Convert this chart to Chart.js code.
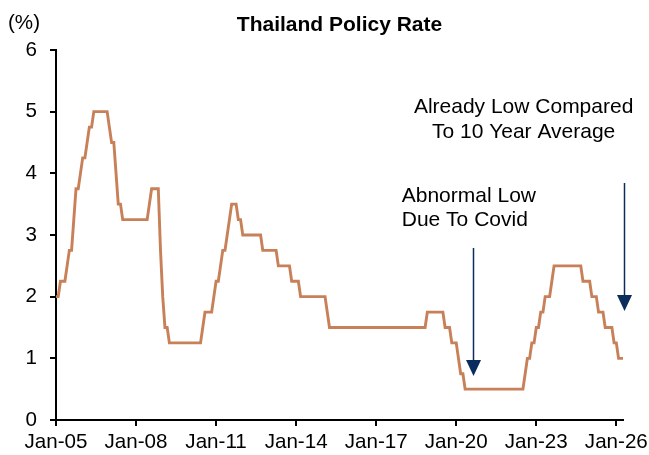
<!DOCTYPE html>
<html>
<head>
<meta charset="utf-8">
<script src="https://cdn.jsdelivr.net/npm/chart.js@4.4.1/dist/chart.umd.min.js"></script>
<style>
  html, body { margin: 0; padding: 0; background: #fff; }
  canvas { display: block; }
</style>
</head>
<body>
<canvas id="rateChart" width="649" height="455"></canvas>
<script>
// Monthly policy rate, Jan-05 .. Apr-26 (one row per year)
const rates = [
  2.00, 2.00, 2.25, 2.25, 2.25, 2.50, 2.75, 2.75, 3.25, 3.75, 3.75, 4.00, // 2005
  4.25, 4.25, 4.50, 4.75, 4.75, 5.00, 5.00, 5.00, 5.00, 5.00, 5.00, 5.00, // 2006
  4.75, 4.50, 4.50, 4.00, 3.50, 3.50, 3.25, 3.25, 3.25, 3.25, 3.25, 3.25, // 2007
  3.25, 3.25, 3.25, 3.25, 3.25, 3.25, 3.50, 3.75, 3.75, 3.75, 3.75, 2.75, // 2008
  2.00, 1.50, 1.50, 1.25, 1.25, 1.25, 1.25, 1.25, 1.25, 1.25, 1.25, 1.25, // 2009
  1.25, 1.25, 1.25, 1.25, 1.25, 1.25, 1.50, 1.75, 1.75, 1.75, 1.75, 2.00, // 2010
  2.25, 2.25, 2.50, 2.75, 2.75, 3.00, 3.25, 3.50, 3.50, 3.50, 3.25, 3.25, // 2011
  3.00, 3.00, 3.00, 3.00, 3.00, 3.00, 3.00, 3.00, 3.00, 2.75, 2.75, 2.75, // 2012
  2.75, 2.75, 2.75, 2.75, 2.50, 2.50, 2.50, 2.50, 2.50, 2.50, 2.25, 2.25, // 2013
  2.25, 2.25, 2.00, 2.00, 2.00, 2.00, 2.00, 2.00, 2.00, 2.00, 2.00, 2.00, // 2014
  2.00, 2.00, 1.75, 1.50, 1.50, 1.50, 1.50, 1.50, 1.50, 1.50, 1.50, 1.50, // 2015
  1.50, 1.50, 1.50, 1.50, 1.50, 1.50, 1.50, 1.50, 1.50, 1.50, 1.50, 1.50, // 2016
  1.50, 1.50, 1.50, 1.50, 1.50, 1.50, 1.50, 1.50, 1.50, 1.50, 1.50, 1.50, // 2017
  1.50, 1.50, 1.50, 1.50, 1.50, 1.50, 1.50, 1.50, 1.50, 1.50, 1.50, 1.75, // 2018
  1.75, 1.75, 1.75, 1.75, 1.75, 1.75, 1.75, 1.50, 1.50, 1.50, 1.25, 1.25, // 2019
  1.25, 1.00, 0.75, 0.75, 0.50, 0.50, 0.50, 0.50, 0.50, 0.50, 0.50, 0.50, // 2020
  0.50, 0.50, 0.50, 0.50, 0.50, 0.50, 0.50, 0.50, 0.50, 0.50, 0.50, 0.50, // 2021
  0.50, 0.50, 0.50, 0.50, 0.50, 0.50, 0.50, 0.75, 1.00, 1.00, 1.25, 1.25, // 2022
  1.50, 1.50, 1.75, 1.75, 2.00, 2.00, 2.00, 2.25, 2.50, 2.50, 2.50, 2.50, // 2023
  2.50, 2.50, 2.50, 2.50, 2.50, 2.50, 2.50, 2.50, 2.50, 2.25, 2.25, 2.25, // 2024
  2.25, 2.00, 2.00, 2.00, 1.75, 1.75, 1.75, 1.50, 1.50, 1.50, 1.50, 1.25, // 2025
  1.25, 1.00, 1.00, 1.00                                                  // 2026
];

// x axis: months since Jan-05
const xTickMonths = [0, 36, 72, 108, 144, 180, 216, 252];
const xTickLabels = ['Jan-05', 'Jan-08', 'Jan-11', 'Jan-14', 'Jan-17', 'Jan-20', 'Jan-23', 'Jan-26'];
const xMax = 255;
const yTicks = [0, 1, 2, 3, 4, 5, 6];

const chartTitle = 'Thailand Policy Rate';
const unitLabel = '(%)';

// annotations, anchored in data units (month, rate)
const noteLines = [['Abnormal Low', 'Due To Covid'], ['Already Low Compared', 'To 10 Year Average']];
const noteX = [155.5, 210.3];
const noteAlign = ['left', 'center'];
const noteBaselines = [[3.54, 3.154], [4.978, 4.573]];
const arrowX = [187.7, 255.3];
const arrowFrom = [2.79, 3.843];
const arrowTo = [0.713, 1.768];

const lineColor = '#C78058';
const arrowColor = '#0B2D5B';
const fontFamily = '"Liberation Sans", Arial, Helvetica, sans-serif';

const notesPlugin = {
    id: 'notes',
    afterDraw(chart) {
        const { ctx, chartArea } = chart;
        const x = chart.scales.x;
        const y = chart.scales.y;
        ctx.save();
        ctx.fillStyle = '#000';

        ctx.font = 'bold 21px ' + fontFamily;
        ctx.textAlign = 'center';
        ctx.textBaseline = 'alphabetic';
        ctx.fillText(chartTitle, (chartArea.left + chartArea.right) / 2, 31);

        ctx.font = '20.6px ' + fontFamily;
        ctx.textAlign = 'left';
        ctx.fillText(unitLabel, 8, 29);

        ctx.font = '21px ' + fontFamily;
        noteLines.forEach((lines, i) => {
            ctx.textAlign = noteAlign[i];
            lines.forEach((txt, j) => {
                ctx.fillText(txt, x.getPixelForValue(noteX[i]), y.getPixelForValue(noteBaselines[i][j]));
            });
        });

        // arrows
        ctx.strokeStyle = arrowColor;
        ctx.fillStyle = arrowColor;
        ctx.lineWidth = 1.5;
        arrowX.forEach((mx, i) => {
            const px = Math.round(x.getPixelForValue(mx)) + 0.5;
            const top = y.getPixelForValue(arrowFrom[i]);
            const tip = y.getPixelForValue(arrowTo[i]);
            const headLen = 16;
            const headHalf = 7.5;
            ctx.beginPath();
            ctx.moveTo(px, top);
            ctx.lineTo(px, tip - headLen + 1);
            ctx.stroke();
            ctx.beginPath();
            ctx.moveTo(px - headHalf, tip - headLen);
            ctx.lineTo(px + headHalf, tip - headLen);
            ctx.lineTo(px, tip);
            ctx.closePath();
            ctx.fill();
        });
        ctx.restore();
    }
};

const points = rates.map((v, i) => ({ x: i, y: v }));

const ctx = document.getElementById('rateChart').getContext('2d');
new Chart(ctx, {
    type: 'line',
    data: {
        datasets: [{
            data: points,
            borderColor: lineColor,
            borderWidth: 2.9,
            pointRadius: 0,
            tension: 0,
            fill: false
        }]
    },
    options: {
        responsive: false,
        animation: false,
        events: [],
        layout: { padding: { top: 50, right: 26, left: 0, bottom: 0 } },
        plugins: {
            legend: { display: false },
            tooltip: { enabled: false },
            title: { display: false }
        },
        scales: {
            x: {
                type: 'linear',
                min: 0,
                max: xMax,
                afterBuildTicks: (scale) => {
                    scale.ticks = xTickMonths.map(v => ({ value: v }));
                },
                afterFit: (scale) => {
                    // keep the plot area fixed; the end labels fit in the margins
                    scale.height = 35;
                    scale.paddingLeft = 0;
                    scale.paddingRight = 0;
                },
                border: { display: true, color: '#000', width: 2 },
                grid: { drawOnChartArea: false, drawTicks: true, tickLength: 6, color: '#000', lineWidth: 2 },
                ticks: {
                    color: '#000',
                    font: { family: fontFamily, size: 20.6 },
                    padding: 4,
                    maxRotation: 0,
                    autoSkip: false,
                    callback: (value) => xTickLabels[xTickMonths.indexOf(value)]
                }
            },
            y: {
                min: 0,
                max: 6,
                afterBuildTicks: (scale) => {
                    scale.ticks = yTicks.map(v => ({ value: v }));
                },
                afterFit: (scale) => {
                    scale.width = 56;
                    scale.paddingTop = 0;
                    scale.paddingBottom = 0;
                },
                border: { display: true, color: '#000', width: 2 },
                grid: { drawOnChartArea: false, drawTicks: true, tickLength: 6, color: '#000', lineWidth: 2 },
                ticks: {
                    color: '#000',
                    font: { family: fontFamily, size: 20.6 },
                    padding: 13
                }
            }
        }
    },
    plugins: [notesPlugin]
});
</script>
</body>
</html>
